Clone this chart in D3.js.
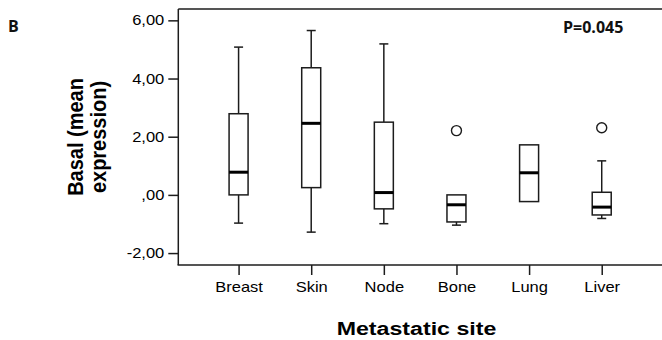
<!DOCTYPE html>
<html>
<head>
<meta charset="utf-8">
<script src="https://cdn.jsdelivr.net/npm/d3@7"></script>
<style>
  html, body { margin: 0; padding: 0; background: #fff; }
  svg { display: block; }
</style>
</head>
<body>
<svg id="chart" width="662" height="340"></svg>
<script>
const categories = ["Breast", "Skin", "Node", "Bone", "Lung", "Liver"];
const whiskerLow  = [-0.97, -1.28, -0.99, -1.04, -0.23, -0.81];
const q1          = [ 0.00,  0.25, -0.48, -0.93, -0.23, -0.69];
const median      = [ 0.78,  2.46,  0.08, -0.34,  0.76, -0.42];
const q3          = [ 2.79,  4.37,  2.50,  0.00,  1.72,  0.09];
const whiskerHigh = [ 5.08,  5.65,  5.19,  0.00,  1.72,  1.17];
const outlierCats = ["Bone", "Liver"];
const outlierVals = [2.21, 2.31];
const yTicks = [-2, 0, 2, 4, 6];
const yTickLabels = ["-2,00", ",00", "2,00", "4,00", "6,00"];
const yTitle = ["Basal (mean", "expression)"];
const xTitle = "Metastatic site";
const panelLabel = "B";
const pLabel = "P=0.045";

(function () {
const svg = d3.select("#chart");
const pLeft = 178.3, pRight = 662, pTop = 9, pBottom = 265;
const ink = "#1c1c1c";
const sx = 1.18; // horizontal text stretch

const x = d3.scalePoint().domain(categories).range([pLeft, pRight]).padding(0.83);
const y = d3.scaleLinear().domain([-2.41, 6.39]).range([pBottom, pTop]);

// frame top line
svg.append("line").attr("x1", pLeft).attr("x2", pRight).attr("y1", pTop).attr("y2", pTop)
  .attr("stroke", ink).attr("stroke-width", 1.5);

// y axis
const yAxis = svg.append("g").attr("transform", `translate(${pLeft},0)`)
  .call(d3.axisLeft(y).tickValues(yTicks).tickFormat((d, i) => yTickLabels[i]).tickSize(10).tickPadding(4));
yAxis.select(".domain").attr("stroke", ink).attr("stroke-width", 1.5).attr("d", `M0,${pTop}V${pBottom}`);
yAxis.selectAll(".tick line").attr("stroke", ink).attr("stroke-width", 1.5);
yAxis.selectAll(".tick text")
  .attr("font-family", "'Liberation Sans', Arial, sans-serif").attr("font-size", 14).attr("fill", "#000")
  .attr("x", -14 / sx).attr("transform", `scale(${sx},1)`);

// x axis
const xAxis = svg.append("g").attr("transform", `translate(0,${pBottom})`)
  .call(d3.axisBottom(x).tickSize(10).tickPadding(7));
xAxis.select(".domain").attr("stroke", ink).attr("stroke-width", 1.5).attr("d", `M${pLeft - 0.75},0H${pRight}`);
xAxis.selectAll(".tick line").attr("stroke", ink).attr("stroke-width", 1.5);
xAxis.selectAll(".tick text")
  .attr("font-family", "'Liberation Sans', Arial, sans-serif").attr("font-size", 14).attr("fill", "#000")
  .attr("transform", `scale(${sx},1)`);

// boxes
const boxW = 19, capW = 9;
const data = categories.map((c, i) => ({
  c, lo: whiskerLow[i], q1: q1[i], med: median[i], q3: q3[i], hi: whiskerHigh[i]
}));
const g = svg.append("g");
data.forEach(d => {
  const cx = x(d.c);
  if (d.hi - d.q3 > 0.01) {
    g.append("line").attr("x1", cx).attr("x2", cx).attr("y1", y(d.hi)).attr("y2", y(d.q3))
      .attr("stroke", ink).attr("stroke-width", 1.5);
    g.append("line").attr("x1", cx - capW / 2).attr("x2", cx + capW / 2).attr("y1", y(d.hi)).attr("y2", y(d.hi))
      .attr("stroke", ink).attr("stroke-width", 1.5);
  }
  if (d.q1 - d.lo > 0.01) {
    g.append("line").attr("x1", cx).attr("x2", cx).attr("y1", y(d.q1)).attr("y2", y(d.lo))
      .attr("stroke", ink).attr("stroke-width", 1.5);
    g.append("line").attr("x1", cx - capW / 2).attr("x2", cx + capW / 2).attr("y1", y(d.lo)).attr("y2", y(d.lo))
      .attr("stroke", ink).attr("stroke-width", 1.5);
  }
  g.append("rect").attr("x", cx - boxW / 2).attr("width", boxW)
    .attr("y", y(d.q3)).attr("height", y(d.q1) - y(d.q3))
    .attr("fill", "#fff").attr("stroke", ink).attr("stroke-width", 1.5);
  g.append("line").attr("x1", cx - boxW / 2).attr("x2", cx + boxW / 2).attr("y1", y(d.med)).attr("y2", y(d.med))
    .attr("stroke", "#000").attr("stroke-width", 3);
});

// outliers
g.selectAll("circle.out").data(outlierCats.map((c, i) => ({ c, v: outlierVals[i] })))
  .join("circle").attr("class", "out")
  .attr("cx", d => x(d.c)).attr("cy", d => y(d.v)).attr("r", 5)
  .attr("fill", "#fff").attr("stroke", ink).attr("stroke-width", 1.4);

// panel label & p-value
svg.append("text").attr("x", 8).attr("y", 31.7).text(panelLabel)
  .attr("font-family", "'Open Sans', sans-serif").attr("font-weight", "bold").attr("font-size", 16).attr("fill", "#111");
svg.append("text").attr("x", 563).attr("y", 32.5).text(pLabel)
  .attr("font-family", "'Open Sans', sans-serif").attr("font-weight", "bold").attr("font-size", 16).attr("fill", "#111");

// y title
const yt = svg.append("g").attr("transform", `translate(83,137) scale(1.08,1) rotate(-90)`);
yTitle.forEach((t, i) => {
  yt.append("text").attr("x", 0).attr("y", i * 23 / 1.08).attr("text-anchor", "middle").text(t)
    .attr("font-family", "'Liberation Sans', Arial, sans-serif").attr("font-weight", "bold")
    .attr("font-size", 20).attr("fill", "#000");
});

// x title
svg.append("g").attr("transform", `translate(416.5,335) scale(1.22,1)`)
  .append("text").attr("text-anchor", "middle").text(xTitle)
  .attr("font-family", "'Liberation Sans', Arial, sans-serif").attr("font-weight", "bold")
  .attr("font-size", 19).attr("fill", "#000");
})();
</script>
</body>
</html>
